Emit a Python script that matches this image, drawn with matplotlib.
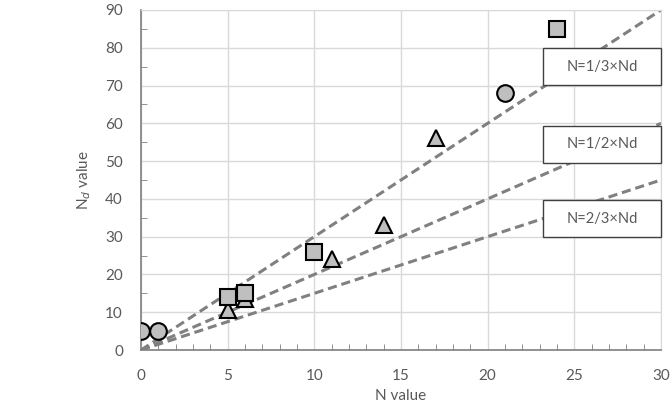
import numpy as np
import matplotlib.pyplot as plt
from matplotlib.patches import Rectangle

# data
circle_n = [0, 1, 21]
circle_nd = [5, 5, 68]
square_n = [5, 6, 10, 24]
square_nd = [14, 15, 26, 85]
tri_n = [5, 6, 11, 14, 17]
tri_nd = [10.5, 13.5, 24, 33, 56]

ratios = [1/3, 1/2, 2/3]
ratio_labels = ["N=1/3\u00d7Nd", "N=1/2\u00d7Nd", "N=2/3\u00d7Nd"]
label_y = [75, 54.4, 34.8]

plt.rcParams['font.family'] = ['Lato', 'DejaVu Sans']
txt = '#595959'

fig = plt.figure(figsize=(6.72, 4.11), dpi=100)
ax = fig.add_axes([0.2098, 0.1484, 0.7738, 0.8273])

ax.set_xlim(0, 30)
ax.set_ylim(0, 90)
ax.set_xticks(np.arange(0, 31, 5))
ax.set_yticks(np.arange(0, 91, 10))
ax.set_xticks(np.arange(0, 31, 1), minor=True)
ax.set_yticks(np.arange(0, 91, 5), minor=True)
ax.grid(True, which='major', color='#d9d9d9', lw=1)
ax.set_axisbelow(True)
ax.tick_params(which='major', length=0, labelsize=11, labelcolor=txt)
ax.tick_params(axis='y', which='major', pad=13)
ax.tick_params(axis='x', which='major', pad=14)
ax.tick_params(which='minor', direction='in', length=4, color='#7f7f7f')
for s in ['top', 'right']:
    ax.spines[s].set_color('#d9d9d9')
for s in ['left', 'bottom']:
    ax.spines[s].set_color('#7f7f7f')
    ax.spines[s].set_linewidth(1.2)

xs = np.array([0, 30])
for r in ratios:
    ax.plot(xs, xs / r, color='#808080', lw=2.2, ls=(0, (3, 1.6)), zorder=2)

mk = dict(mfc='#bfbfbf', mec='black', mew=1.5, ls='none', ms=11.5, zorder=3)
ax.plot(tri_n, tri_nd, marker='^', **mk)
ax.plot(square_n, square_nd, marker='s', **mk)
ax.plot(circle_n, circle_nd, marker='o', **dict(mk, ms=12))

# label boxes: 118 x 37 px
bw, bh = 118 / 520 * 30, 37 / 340 * 90
for lab, y in zip(ratio_labels, label_y):
    ax.add_patch(Rectangle((26.6 - bw / 2, y - bh / 2), bw, bh, fc='white',
                           ec='#404040', lw=1, zorder=4, clip_on=False))
    ax.text(26.6, y, lab, ha='center', va='center', fontsize=10.5, color=txt, zorder=5)

ax.set_xlabel("N value", fontsize=11, color=txt, labelpad=4)
ax.set_ylabel("N$_d$ value", fontsize=11, color=txt, labelpad=9)

fig.savefig('out.png', dpi=100)
